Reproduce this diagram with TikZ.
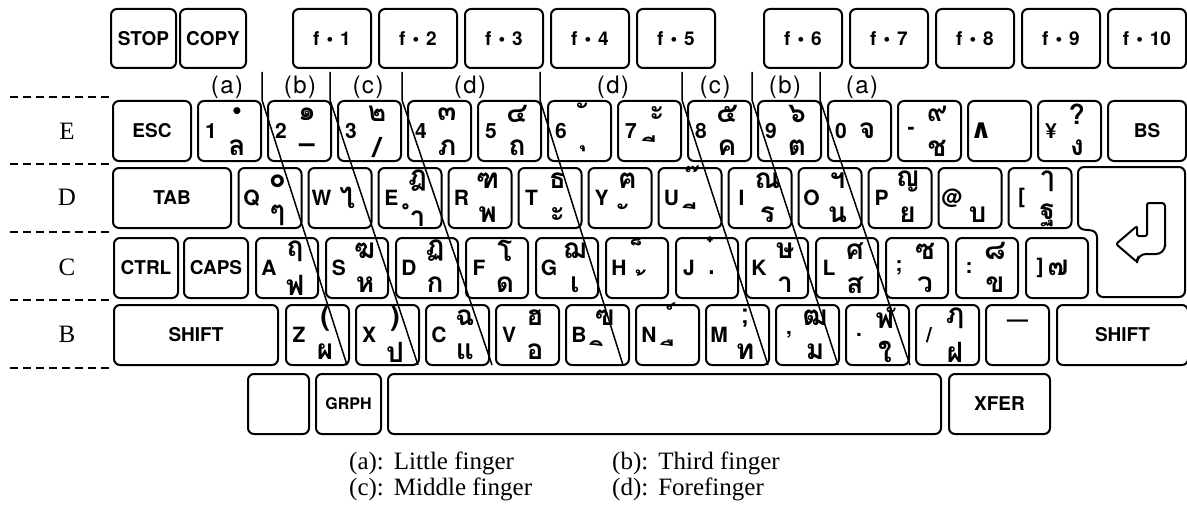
\documentclass[tikz,border=0pt]{standalone}
\usepackage{fontspec}
\setsansfont{TeX Gyre Heros}
\newfontfamily\thaifont[Script=Thai]{Loma}
\newfontfamily\legendfont{Liberation Serif}
\newfontfamily\signfont{DejaVu Sans}
\usetikzlibrary{positioning}

% a Thai vowel or tone mark in a box of its own, so that it has a width
\newcommand\thaimark[1]{\makebox[9pt]{#1}}

\tikzset{
  keycap/.style={draw,line width=2pt,rounded corners=6pt,anchor=north west,
                 minimum width=63pt,minimum height=60pt,inner sep=0pt},
  keyname/.style={font=\sffamily\bfseries\fontsize{19}{19}\selectfont},
  keylat/.style={font=\sffamily\bfseries\fontsize{21}{21}\selectfont,inner sep=0pt},
  keythai/.style={font=\thaifont\bfseries\fontsize{28}{28}\selectfont,inner sep=0pt},
  rowlabel/.style={font=\legendfont\fontsize{25}{25}\selectfont},
  fingerlabel/.style={font=\sffamily\fontsize{24}{24}\selectfont},
  legend/.style={font=\legendfont\fontsize{25}{25}\selectfont,anchor=west,inner sep=0pt},
  rowsep/.style={line width=1.5pt,dash pattern=on 8pt off 5pt},
  fingerline/.style={line width=1.5pt}
}

\begin{document}
\begin{tikzpicture}[x=1pt,y=-1pt]
  \useasboundingbox (0,0) rectangle (1187,511);

  % function row
  \node[keycap,keyname,minimum width=65pt,minimum height=59pt] (stop) at (110,8) {STOP};
  \node[keycap,keyname,minimum width=66pt,minimum height=59pt] (copy) at (179,8) {COPY};
  \foreach \n [count=\i from 0] in {1,...,5}
    \node[keycap,keyname,minimum width=78pt,minimum height=59pt] (f\n) at ({292+86*\i},8)
      {f\hspace{7pt}•\hspace{7pt}\n};
  \foreach \n [count=\i from 0] in {6,...,10}
    \node[keycap,keyname,minimum width=78pt,minimum height=59pt] (f\n) at ({763+86*\i},8)
      {f\hspace{7pt}•\hspace{7pt}\n};

  % finger labels
  \node[fingerlabel] (ga1) at (227,87) {(\kern1.5pt a\kern1.5pt)};
  \node[fingerlabel] (gb1) at (300,87) {(\kern1.5pt b\kern1.5pt)};
  \node[fingerlabel] (gc1) at (368,87) {(\kern1.5pt c\kern1.5pt)};
  \node[fingerlabel] (gd1) at (470,87) {(\kern1.5pt d\kern1.5pt)};
  \node[fingerlabel] (gd2) at (613,87) {(\kern1.5pt d\kern1.5pt)};
  \node[fingerlabel] (gc2) at (715,87) {(\kern1.5pt c\kern1.5pt)};
  \node[fingerlabel] (gb2) at (785,87) {(\kern1.5pt b\kern1.5pt)};
  \node[fingerlabel] (ga2) at (862,87) {(\kern1.5pt a\kern1.5pt)};

  % row E
  \node[keycap,keyname,minimum width=78pt] (esc) at (112,100) {ESC};
  \node[keycap,keyname,minimum width=78pt] (bs) at (1107,100) {BS};
  \foreach \lat/\up/\mi/\dn [count=\i from 0] in
    {1/{\sffamily•}//ล, 2/๑//{\sffamily –}, 3/๒//{/}, 4/๓//ภ, 5/๔//ถ,
     6/\thaimark{ั}//\thaimark{ุ}, 7/ะ//\thaimark{ี}, 8/๕//ค, 9/๖//ต,
     0//จ/, -/๙//ช, {\signfont\bfseries\fontsize{27}{27}\selectfont ∧}///, ¥/?//ง}{
    \node[keycap] (e\i) at ({197+70*\i},100) {};
    \node[keylat] at ([xshift=14pt]e\i.west) {\lat};
    \node[keythai] at ([xshift=40pt,yshift=-14pt]e\i.north west) {\up};
    \node[keythai] at ([xshift=40pt]e\i.west) {\mi};
    \node[keythai] at ([xshift=40pt,yshift=14pt]e\i.south west) {\dn};
  }

  % row D
  \node[keycap,keyname,minimum width=118pt] (tab) at (112,167) {TAB};
  \foreach \lat/\up/\mi/\dn [count=\i from 0] in
    {Q/๐//ๆ, W//ไ/, E/ฎ//ำ, R/ฑ//พ, T/ธ//ะ, Y/ฅ//\thaimark{ั}, U/\thaimark{๊}//\thaimark{ี},
     I/ณ//ร, O/ฯ//น, P/ญ//ย, @///บ, [/ๅ//ฐ}{
    \node[keycap] (d\i) at ({237.5+70*\i},167) {};
    \node[keylat] at ([xshift=14pt]d\i.west) {\lat};
    \node[keythai] at ([xshift=40pt,yshift=-14pt]d\i.north west) {\up};
    \node[keythai] at ([xshift=40pt]d\i.west) {\mi};
    \node[keythai] at ([xshift=40pt,yshift=14pt]d\i.south west) {\dn};
  }
  % return key and its sign
  \draw[line width=2pt,rounded corners=6pt]
    (1078,167) -- (1185,167) -- (1185,297) -- (1097,297) -- (1097,231)
    -- (1078,229) -- cycle;
  \draw[line width=2pt,rounded corners=3pt]
    (1147,203) -- (1165,203) -- (1165,244) [rounded corners=9pt] -- (1165,254)
    -- (1137,254) [rounded corners=2pt] -- (1137,262)
    -- (1116,244) -- (1137,226) -- (1137,236) -- (1147,236) -- cycle;

  % row C
  \node[keycap,keyname,minimum width=64pt] (ctrl) at (113,237) {CTRL};
  \node[keycap,keyname,minimum width=64pt] (caps) at (183,237) {CAPS};
  \foreach \lat/\up/\mi/\dn [count=\i from 0] in
    {A/ฤ//ฟ, S/ฆ//ห, D/ฏ//ก, F/โ//ด, G/ฌ//เ, H/\thaimark{็}//\thaimark{้},
     J/\thaimark{๋}//\thaimark{่}, K/ษ//า, L/ศ//ส, ;/ซ//ว, :/๘//ข}{
    \node[keycap,minimum width=62pt] (c\i) at ({255+70*\i},237) {};
    \node[keylat] at ([xshift=14pt]c\i.west) {\lat};
    \node[keythai] at ([xshift=40pt,yshift=-14pt]c\i.north west) {\up};
    \node[keythai] at ([xshift=40pt,yshift=14pt]c\i.south west) {\dn};
  }
  \node[keycap,minimum width=62pt] (c11) at (1025,237) {};
  \node[keylat] at ([xshift=15pt]c11.west) {]};
  \node[keythai] at ([xshift=33pt]c11.west) {๗};

  % row B
  \node[keycap,keyname,minimum width=164pt] (lshift) at (113,304) {SHIFT};
  \node[keycap,keyname,minimum width=131pt] (rshift) at (1056,304) {SHIFT};
  \foreach \lat/\up/\dn [count=\i from 0] in
    {Z/(/ผ, X/)/ป, C/ฉ/แ, V/ฮ/อ, B/ฃ/\thaimark{ิ}, N/\thaimark{์}/\thaimark{ื},
     M/;/ท, {,}/ฒ/ม, ./ฬ/ใ, {/}/ฦ/ฝ}{
    \node[keycap] (b\i) at ({285+70*\i},304) {};
    \node[keylat] at ([xshift=14pt]b\i.west) {\lat};
    \node[keythai] at ([xshift=40pt,yshift=-14pt]b\i.north west) {\up};
    \node[keythai] at ([xshift=40pt,yshift=14pt]b\i.south west) {\dn};
  }
  \node[keycap] (b10) at (985,304) {};
  \node[keylat] at ([yshift=-19pt]b10.north) {—};

  % bottom row
  \node[keycap,minimum width=61pt] (blank) at (247,373) {};
  \node[keycap,keyname,minimum width=65pt,
        font=\sffamily\bfseries\fontsize{16}{16}\selectfont] (grph) at (315,373) {GRPH};
  \node[keycap,minimum width=553pt] (space) at (387,373) {};
  \node[keycap,keyname,minimum width=101pt] (xfer) at (948,373) {XFER};

  % row names and separators
  \node[rowlabel] (rowE) at (67,131) {E};
  \node[rowlabel] (rowD) at (67,197) {D};
  \node[rowlabel] (rowC) at (67,267) {C};
  \node[rowlabel] (rowB) at (67,334) {B};
  \foreach \y in {97,164,232,300,368}
    \draw[rowsep] (10,\y) -- (110,\y);

  % finger boundaries
  \foreach \t/\b [count=\k] in {262/347,330/418,402/492,540/623,682/768,752/838,820/910}{
    \coordinate (ft\k) at (\t,72);
    \coordinate (fm\k) at (\t,100);
    \coordinate (fb\k) at (\b,365);
    \draw[fingerline] (ft\k) -- (fm\k) -- (fb\k);
  }

  % legend
  \node[legend] (lga) at (349,463) {(a):\hspace{10pt}Little finger};
  \node[legend] (lgb) at (612,463) {(b):\hspace{10pt}Third finger};
  \node[legend] (lgc) at (349,489) {(c):\hspace{10pt}Middle finger};
  \node[legend] (lgd) at (612,489) {(d):\hspace{10pt}Forefinger};
\end{tikzpicture}
\end{document}
